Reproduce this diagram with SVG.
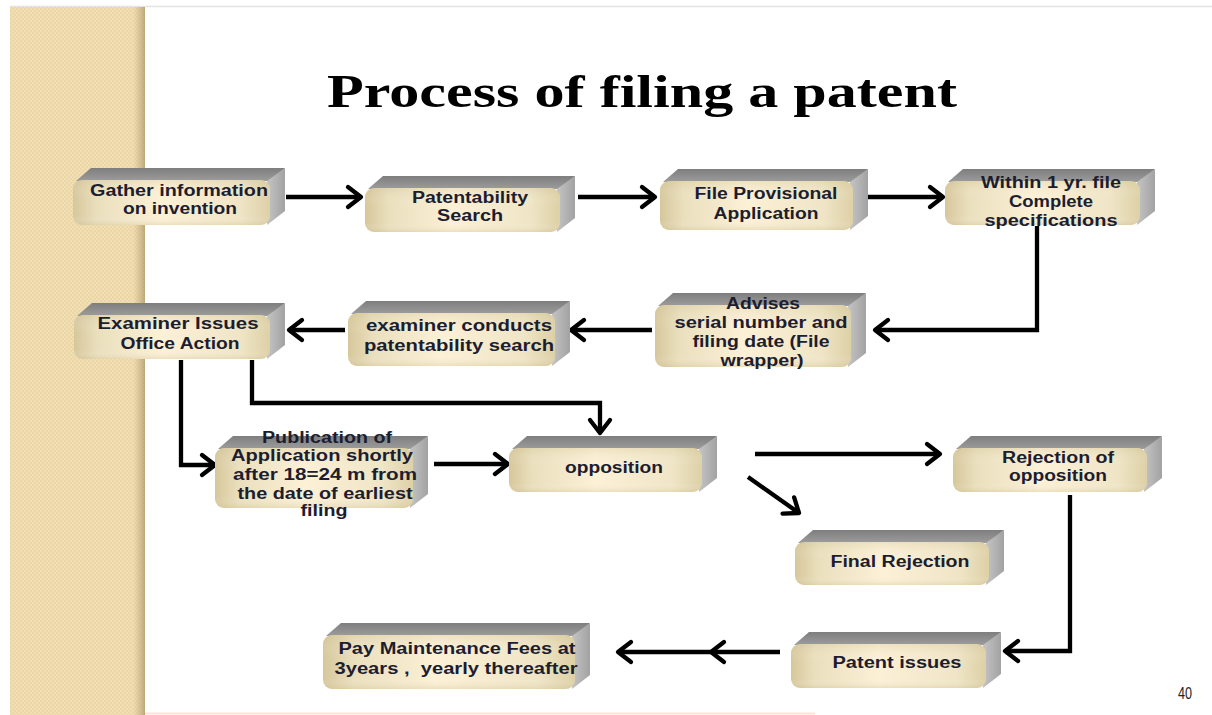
<svg xmlns="http://www.w3.org/2000/svg" width="1212" height="715" viewBox="0 0 1212 715">
<style>
.front{fill:url(#gFront);}
.shade{fill:url(#gShade);}
.top{fill:url(#gTop);}
.side{fill:url(#gSide);}
.lbl{font-family:"Liberation Sans",Arial,sans-serif;font-size:16px;font-weight:bold;fill:#1d1d30;text-anchor:middle;}
.conn{fill:none;stroke:#000;stroke-width:4.3;stroke-linejoin:miter;marker-end:url(#chev);}
</style>
<defs>
<linearGradient id="gFront" x1="0" y1="0" x2="1" y2="0">
<stop offset="0" stop-color="#d6c79b"/>
<stop offset="0.12" stop-color="#eadfbd"/>
<stop offset="0.45" stop-color="#fcf0d6"/>
<stop offset="0.85" stop-color="#efe5c6"/>
<stop offset="1" stop-color="#ddd0a6"/>
</linearGradient>
<linearGradient id="gShade" x1="0" y1="0" x2="0" y2="1">
<stop offset="0" stop-color="#c9b987" stop-opacity="0.25"/>
<stop offset="0.4" stop-color="#ffffff" stop-opacity="0"/>
<stop offset="0.8" stop-color="#ffffff" stop-opacity="0"/>
<stop offset="1" stop-color="#c9b987" stop-opacity="0.3"/>
</linearGradient>
<linearGradient id="gTop" x1="0" y1="0" x2="0" y2="1">
<stop offset="0" stop-color="#7e7e7e"/>
<stop offset="1" stop-color="#9c9c9c"/>
</linearGradient>
<linearGradient id="gSide" x1="0" y1="0" x2="1" y2="0">
<stop offset="0" stop-color="#c4c4c4"/>
<stop offset="1" stop-color="#a2a2a2"/>
</linearGradient>
<linearGradient id="gEdge" x1="0" y1="0" x2="1" y2="0">
<stop offset="0" stop-color="#c8b385" stop-opacity="0"/>
<stop offset="1" stop-color="#b8a273" stop-opacity="0.9"/>
</linearGradient>
<pattern id="pCheck" width="4" height="4" patternUnits="userSpaceOnUse">
<rect width="4" height="4" fill="#f1deb3"/>
<rect width="2" height="2" fill="#ead6a6"/>
<rect x="2" y="2" width="2" height="2" fill="#ead6a6"/>
</pattern>
<marker id="chev" markerUnits="userSpaceOnUse" markerWidth="24" markerHeight="28" refX="17" refY="13" orient="auto" overflow="visible">
<path d="M4,3 L17,13 L4,23" fill="none" stroke="#000" stroke-width="4.3" stroke-linecap="round" stroke-linejoin="round"/>
</marker>
</defs>

<rect x="0" y="0" width="1212" height="715" fill="#ffffff"/>
<line x1="10" y1="6.5" x2="1212" y2="6.5" stroke="#e4e4e4" stroke-width="1.5"/>
<rect x="10" y="7" width="135" height="708" fill="url(#pCheck)"/>
<rect x="133" y="7" width="12" height="708" fill="url(#gEdge)"/>
<line x1="145" y1="713.5" x2="815" y2="713.5" stroke="#fde2d8" stroke-width="2"/>

<text x="642" y="107" font-family="'Liberation Serif','Times New Roman',serif" font-size="46" font-weight="bold" fill="#000" text-anchor="middle" textLength="630" lengthAdjust="spacingAndGlyphs">Process of filing a patent</text>

<g id="connectors">
<path class="conn" d="M286,197 H361"/>
<path class="conn" d="M578,197 H655"/>
<path class="conn" d="M868,197 H943"/>
<path class="conn" d="M1037,226 V330 H875"/>
<path class="conn" d="M652,330 H571"/>
<path class="conn" d="M345,330 H289"/>
<path class="conn" d="M181,360 V465 H215"/>
<path class="conn" d="M252,360 V403 H600 V433"/>
<path class="conn" d="M434,464 H508"/>
<path class="conn" d="M755,454 H940"/>
<path class="conn" d="M748,477 L799,513"/>
<path class="conn" d="M1070,495 V651 H1005"/>
<path class="conn" d="M780,652 H711"/>
<path class="conn" d="M711,652 H618"/>
</g>

<g id="gather">
<polygon class="top" points="76,181 91,168 285,168 270,181"/>
<polygon class="side" points="267,181 285,168 285,211 267,225"/>
<rect class="front" x="73" y="180" width="197" height="45" rx="9"/>
<rect class="shade" x="73" y="180" width="197" height="45" rx="9"/>
<text class="lbl" x="179" y="196" textLength="178" lengthAdjust="spacingAndGlyphs">Gather information</text>
<text class="lbl" x="180" y="214" textLength="114" lengthAdjust="spacingAndGlyphs">on invention</text>
</g>

<g id="patsearch">
<polygon class="top" points="368,189 383,176 575,176 560,189"/>
<polygon class="side" points="557,189 575,176 575,218 557,232"/>
<rect class="front" x="365" y="188" width="195" height="44" rx="9"/>
<rect class="shade" x="365" y="188" width="195" height="44" rx="9"/>
<text class="lbl" x="470" y="203" textLength="116" lengthAdjust="spacingAndGlyphs">Patentability</text>
<text class="lbl" x="470" y="221" textLength="66" lengthAdjust="spacingAndGlyphs">Search</text>
</g>

<g id="fileprov">
<polygon class="top" points="663,182 678,169 868,169 853,182"/>
<polygon class="side" points="850,182 868,169 868,216 850,230"/>
<rect class="front" x="660" y="181" width="193" height="49" rx="9"/>
<rect class="shade" x="660" y="181" width="193" height="49" rx="9"/>
<text class="lbl" x="766" y="199" textLength="143" lengthAdjust="spacingAndGlyphs">File Provisional</text>
<text class="lbl" x="766" y="219" textLength="105" lengthAdjust="spacingAndGlyphs">Application</text>
</g>

<g id="within">
<polygon class="top" points="948,182 963,169 1155,169 1140,182"/>
<polygon class="side" points="1137,182 1155,169 1155,211 1137,225"/>
<rect class="front" x="945" y="181" width="195" height="44" rx="9"/>
<rect class="shade" x="945" y="181" width="195" height="44" rx="9"/>
<text class="lbl" x="1051" y="188" textLength="140" lengthAdjust="spacingAndGlyphs">Within 1 yr. file</text>
<text class="lbl" x="1051" y="207" textLength="84" lengthAdjust="spacingAndGlyphs">Complete</text>
<text class="lbl" x="1051" y="226" textLength="133" lengthAdjust="spacingAndGlyphs">specifications</text>
</g>

<g id="advises">
<polygon class="top" points="658,306 673,293 866,293 851,306"/>
<polygon class="side" points="848,306 866,293 866,353 848,367"/>
<rect class="front" x="655" y="305" width="196" height="62" rx="9"/>
<rect class="shade" x="655" y="305" width="196" height="62" rx="9"/>
<text class="lbl" x="763" y="309" textLength="74" lengthAdjust="spacingAndGlyphs">Advises</text>
<text class="lbl" x="761" y="328" textLength="173" lengthAdjust="spacingAndGlyphs">serial number and</text>
<text class="lbl" x="761" y="347" textLength="137" lengthAdjust="spacingAndGlyphs">filing date (File</text>
<text class="lbl" x="762" y="366" textLength="83" lengthAdjust="spacingAndGlyphs">wrapper)</text>
</g>

<g id="examconducts">
<polygon class="top" points="351,314 366,301 570,301 555,314"/>
<polygon class="side" points="552,314 570,301 570,352 552,366"/>
<rect class="front" x="348" y="313" width="207" height="53" rx="9"/>
<rect class="shade" x="348" y="313" width="207" height="53" rx="9"/>
<text class="lbl" x="459" y="331" textLength="186" lengthAdjust="spacingAndGlyphs">examiner conducts</text>
<text class="lbl" x="459" y="351" textLength="190" lengthAdjust="spacingAndGlyphs">patentability search</text>
</g>

<g id="examissues">
<polygon class="top" points="77,316 92,303 285,303 270,316"/>
<polygon class="side" points="267,316 285,303 285,345 267,359"/>
<rect class="front" x="74" y="315" width="196" height="44" rx="9"/>
<rect class="shade" x="74" y="315" width="196" height="44" rx="9"/>
<text class="lbl" x="178" y="329" textLength="161" lengthAdjust="spacingAndGlyphs">Examiner Issues</text>
<text class="lbl" x="180" y="349" textLength="119" lengthAdjust="spacingAndGlyphs">Office Action</text>
</g>

<g id="publication">
<polygon class="top" points="218,449 233,436 428,436 413,449"/>
<polygon class="side" points="410,449 428,436 428,494 410,508"/>
<rect class="front" x="215" y="448" width="198" height="60" rx="9"/>
<rect class="shade" x="215" y="448" width="198" height="60" rx="9"/>
<text class="lbl" x="327" y="443" textLength="130" lengthAdjust="spacingAndGlyphs">Publication of</text>
<text class="lbl" x="322" y="461" textLength="182" lengthAdjust="spacingAndGlyphs">Application shortly</text>
<text class="lbl" x="325" y="480" textLength="184" lengthAdjust="spacingAndGlyphs">after 18=24 m from</text>
<text class="lbl" x="325" y="499" textLength="175" lengthAdjust="spacingAndGlyphs">the date of earliest</text>
<text class="lbl" x="324" y="516" textLength="47" lengthAdjust="spacingAndGlyphs">filing</text>
</g>

<g id="opposition">
<polygon class="top" points="512,449 527,436 717,436 702,449"/>
<polygon class="side" points="699,449 717,436 717,478 699,492"/>
<rect class="front" x="509" y="448" width="193" height="44" rx="9"/>
<rect class="shade" x="509" y="448" width="193" height="44" rx="9"/>
<text class="lbl" x="614" y="473" textLength="98" lengthAdjust="spacingAndGlyphs">opposition</text>
</g>

<g id="rejection">
<polygon class="top" points="956,449 971,436 1162,436 1147,449"/>
<polygon class="side" points="1144,449 1162,436 1162,478 1144,492"/>
<rect class="front" x="953" y="448" width="194" height="44" rx="9"/>
<rect class="shade" x="953" y="448" width="194" height="44" rx="9"/>
<text class="lbl" x="1058" y="463" textLength="112" lengthAdjust="spacingAndGlyphs">Rejection of</text>
<text class="lbl" x="1058" y="481" textLength="98" lengthAdjust="spacingAndGlyphs">opposition</text>
</g>

<g id="final">
<polygon class="top" points="798,543 813,530 1004,530 989,543"/>
<polygon class="side" points="986,543 1004,530 1004,571 986,585"/>
<rect class="front" x="795" y="542" width="194" height="43" rx="9"/>
<rect class="shade" x="795" y="542" width="194" height="43" rx="9"/>
<text class="lbl" x="900" y="567" textLength="139" lengthAdjust="spacingAndGlyphs">Final Rejection</text>
</g>

<g id="patentissues">
<polygon class="top" points="794,645 809,632 1001,632 986,645"/>
<polygon class="side" points="983,645 1001,632 1001,674 983,688"/>
<rect class="front" x="791" y="644" width="195" height="44" rx="9"/>
<rect class="shade" x="791" y="644" width="195" height="44" rx="9"/>
<text class="lbl" x="897" y="668" textLength="129" lengthAdjust="spacingAndGlyphs">Patent issues</text>
</g>

<g id="pay">
<polygon class="top" points="326,636 341,623 590,623 575,636"/>
<polygon class="side" points="572,636 590,623 590,675 572,689"/>
<rect class="front" x="323" y="635" width="252" height="54" rx="9"/>
<rect class="shade" x="323" y="635" width="252" height="54" rx="9"/>
<text class="lbl" x="457" y="654" textLength="237" lengthAdjust="spacingAndGlyphs">Pay Maintenance Fees at</text>
<text class="lbl" x="456" y="674" textLength="243" lengthAdjust="spacingAndGlyphs" style="white-space:pre">3years ,  yearly thereafter</text>
</g>

<text x="1185" y="699" font-family="'Liberation Sans',Arial,sans-serif" font-size="16" fill="#222" text-anchor="middle" textLength="14" lengthAdjust="spacingAndGlyphs">40</text>
</svg>
